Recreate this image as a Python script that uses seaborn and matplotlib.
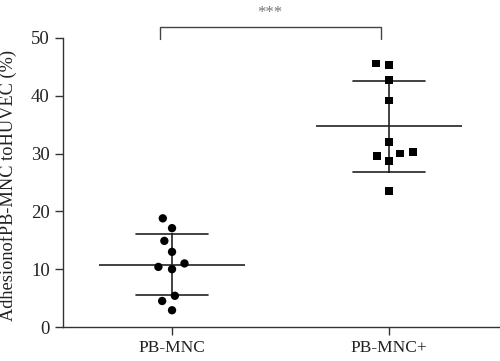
import numpy as np
import pandas as pd
import matplotlib
matplotlib.use("Agg")
import matplotlib.pyplot as plt
import seaborn as sns

sns.set_style("ticks")
plt.rcParams['font.family'] = ['Liberation Serif', 'DejaVu Serif']

# datos
groups = ["PB-MNC", "PB-MNC+"]
pb_mnc = [18.8, 17.1, 14.9, 13.0, 11.0, 10.0, 10.4, 5.4, 4.5, 2.9]
pb_mnc_plus = [45.6, 45.3, 42.7, 39.2, 32.0, 30.3, 29.6, 28.7, 30.0, 23.5]
y_ticks = [0, 10, 20, 30, 40, 50]
y_label = "AdhesionofPB-MNC toHUVEC (%)"
signif = "***"

df = pd.DataFrame({
    "group": [groups[0]] * len(pb_mnc) + [groups[1]] * len(pb_mnc_plus),
    "value": pb_mnc + pb_mnc_plus,
})

fig = plt.figure(figsize=(5, 3.61), dpi=100)
ax = fig.add_axes([63 / 500, 34 / 361, 437 / 500, 289 / 361])

line_col = "#222222"

# media +- desviacion estandar
sns.pointplot(data=df, x="group", y="value", order=groups, errorbar="sd",
              capsize=0.33, linestyle="none", marker="", color=line_col,
              err_kws={"linewidth": 1.2}, ax=ax)
means = df.groupby("group")["value"].mean().reindex(groups)
ax.hlines(means.values, np.arange(len(groups)) - 0.335,
          np.arange(len(groups)) + 0.335, color=line_col, linewidth=1.2)

# puntos (linewidth sin color solo para separar mas el enjambre)
sns.swarmplot(data=df[df.group == groups[0]], x="group", y="value",
              order=groups, color="black", marker="o", size=6,
              linewidth=3.5, edgecolor="none", ax=ax)
sns.swarmplot(data=df[df.group == groups[1]], x="group", y="value",
              order=groups, color="black", marker="s", size=5.5,
              linewidth=3.5, edgecolor="none", ax=ax)

ax.set_xlim(-0.502, 1.51)
ax.set_ylim(0, 50)
ax.set_yticks(y_ticks)
ax.set_xlabel("")
ax.set_ylabel(y_label, fontsize=13.2, color="#222222")
ax.yaxis.set_label_coords(-0.105, 0.49)
ax.tick_params(axis="both", length=6, width=1, color="#333333",
               labelcolor="#222222")
ax.tick_params(axis="y", labelsize=13.5)
ax.tick_params(axis="x", labelsize=12.5)
sns.despine(ax=ax)
for s in ["left", "bottom"]:
    ax.spines[s].set_color("#333333")
    ax.spines[s].set_linewidth(1)

# corchete de significancia
ax.plot([-0.055, -0.055, 0.96, 0.96], [49.8, 51.95, 51.95, 49.8],
        color="#444444", linewidth=1, clip_on=False)
ax.text(0.45, 54.3, signif, ha="center", va="center", fontsize=12,
        color="#777777")

fig.savefig("out.png", dpi=100)
plt.close(fig)
